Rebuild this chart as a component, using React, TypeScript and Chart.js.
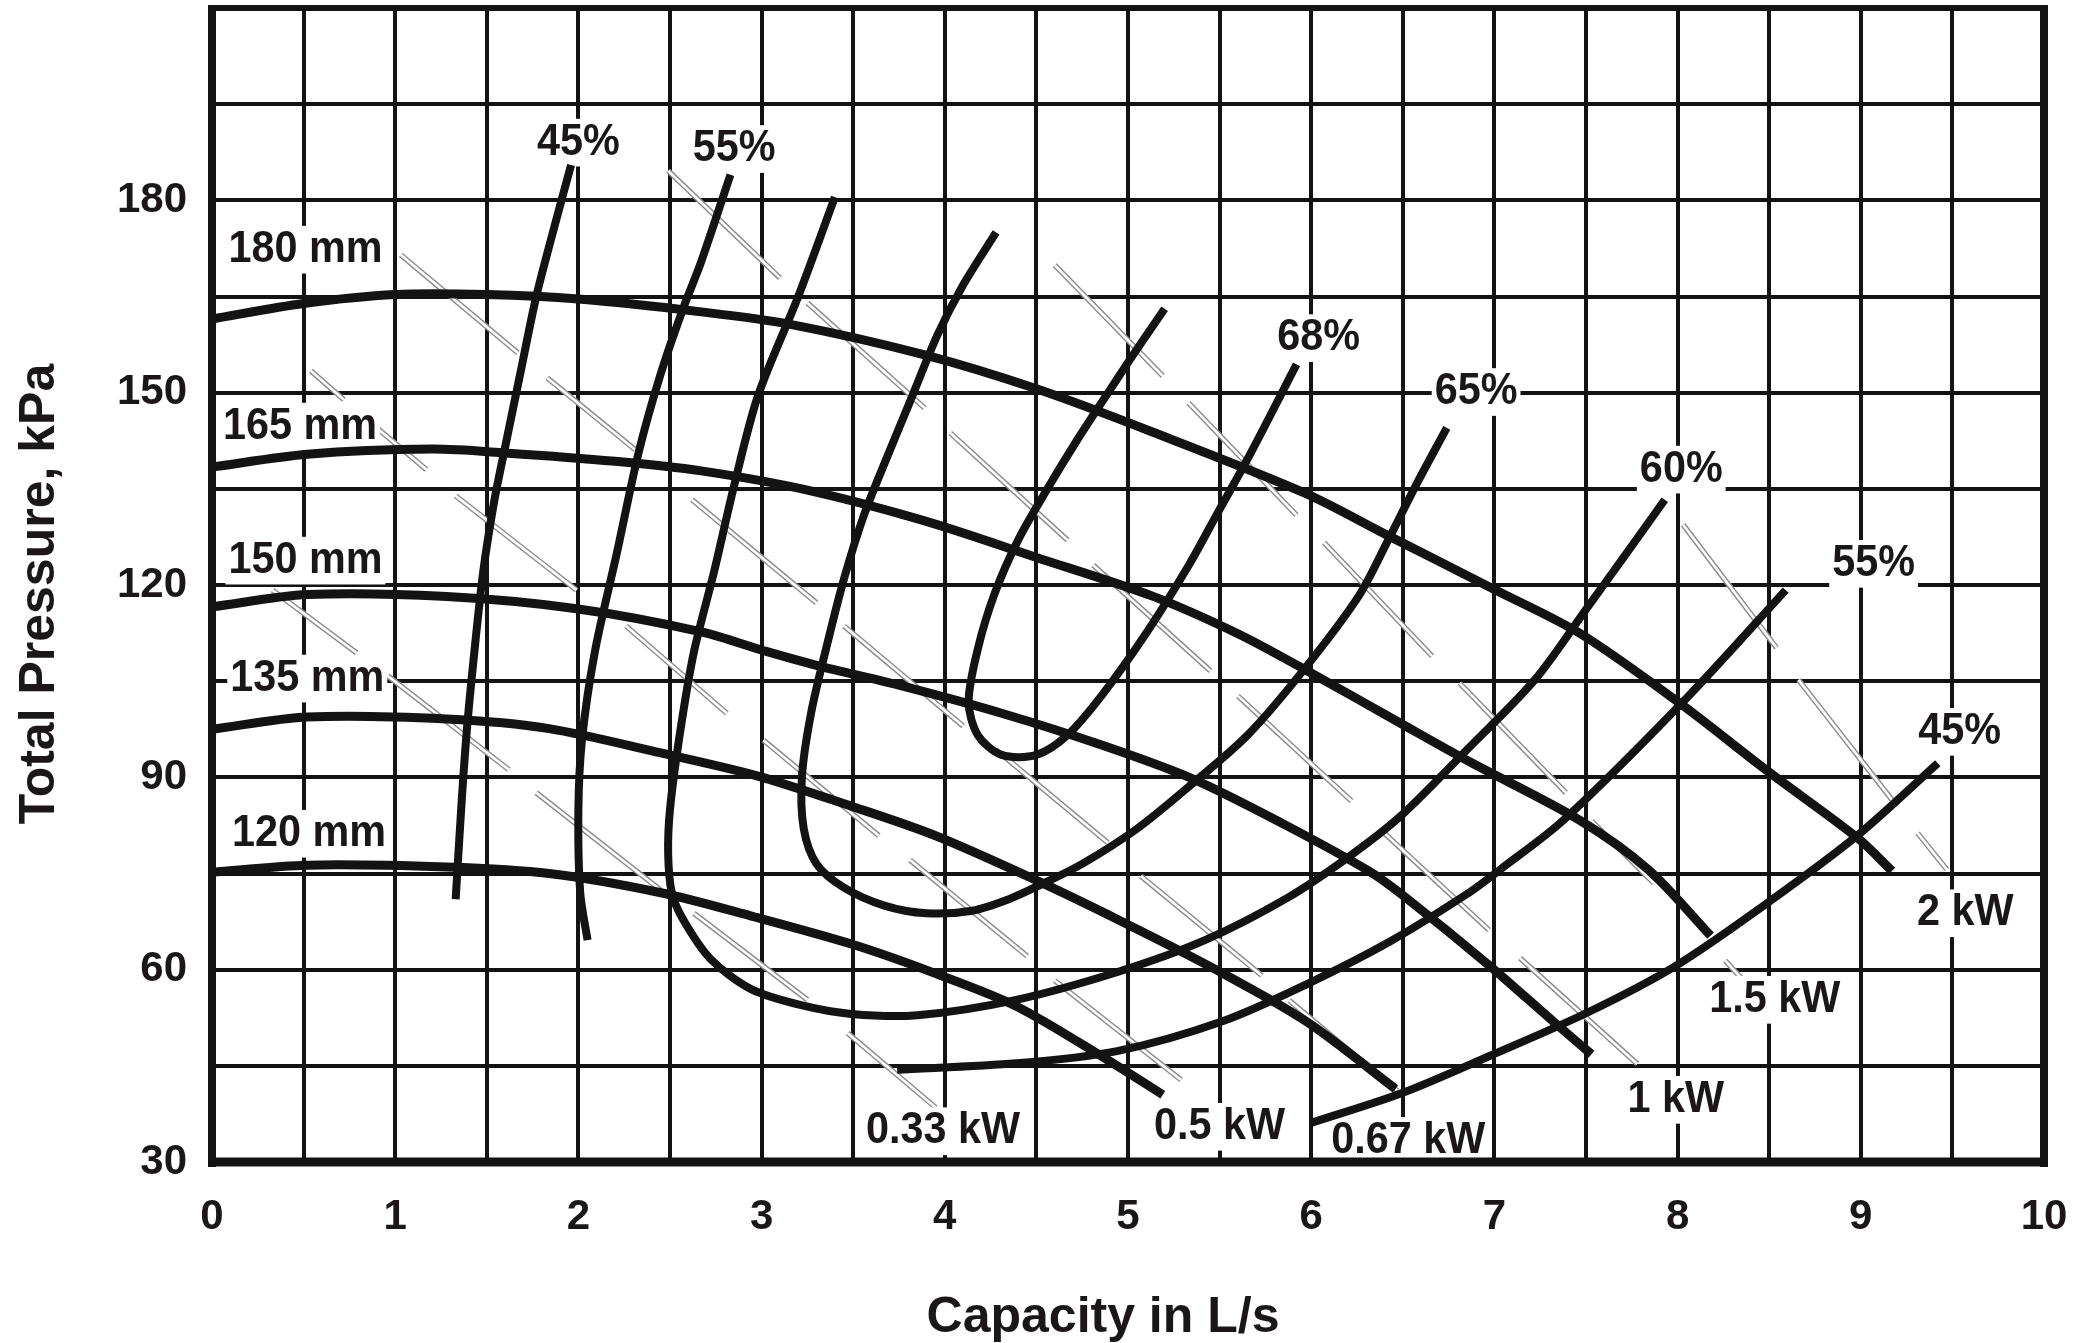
import React, { useEffect, useRef } from 'react';
import { Chart, registerables } from 'chart.js';

Chart.register(...registerables);

type Pt = [number, number];

// ---------- axes ----------
const X_MIN = 0;
const X_MAX = 10;
const X_STEP = 0.5;
const Y_MIN = 30;
const Y_MAX = 210;
const Y_STEP = 15;
const xTickLabels = ['0', '1', '2', '3', '4', '5', '6', '7', '8', '9', '10'];
const yTickLabels = ['30', '60', '90', '120', '150', '180'];
const xTitle = 'Capacity in L/s';
const yTitle = 'Total Pressure, kPa';

// ---------- impeller diameter (head) curves: [L/s, kPa] ----------
const dia180: Pt[] = [[0, 161.5], [0.5, 163.9], [1, 165.3], [1.5, 165.3], [2, 164.6], [2.67, 162.6], [3.15, 160.7], [3.89, 155.9], [4.5, 150.6], [5.13, 143.9], [5.96, 134.4], [6.42, 127.7], [7.0, 119.3], [7.47, 112.4], [8.01, 101.6], [8.49, 91], [8.98, 80.6], [9.17, 75.4]];
const dia165: Pt[] = [[0, 138.4], [0.52, 140.4], [1.2, 141.2], [1.6, 140.6], [2.2, 139.3], [2.67, 137.8], [3.25, 134.8], [3.89, 130], [4.5, 124.3], [5.13, 118.3], [5.6, 112.4], [5.96, 106.9], [6.49, 98.4], [6.86, 92.5], [7.46, 83.4], [7.84, 75.6], [8.18, 65.3]];
const dia150: Pt[] = [[0, 116.6], [0.52, 118.5], [1.28, 118.2], [1.99, 116.3], [2.67, 112.7], [3.03, 109.6], [3.31, 107.4], [3.76, 104.3], [4.31, 100], [4.86, 95], [5.35, 89.8], [5.85, 82.7], [6.32, 75.3], [6.5, 71.6], [6.97, 60.7], [7.33, 51.7], [7.53, 46.8]];
const dia135: Pt[] = [[0, 97.5], [0.52, 99.4], [1.28, 99.1], [1.84, 97.6], [2.45, 93.8], [2.98, 90.2], [3.49, 85.5], [3.94, 81], [4.48, 74.2], [4.96, 67.6], [5.48, 60], [5.98, 51.8], [6.46, 41.4]];
const dia120: Pt[] = [[0, 75.2], [0.52, 76.3], [1.28, 76], [1.84, 75], [2.45, 72], [2.94, 68.4], [3.49, 64], [3.94, 59.5], [4.39, 54.3], [4.89, 45.9], [5.19, 40.5]];

// ---------- efficiency curves ----------
const eff45Left: Pt[] = [[1.33, 71], [1.36, 85], [1.39, 97], [1.43, 109], [1.48, 122], [1.54, 133], [1.6, 141.5], [1.69, 154], [1.77, 165], [1.87, 176], [1.96, 185.5]];
const eff55Left: Pt[] = [[2.05, 64.6], [2.01, 72], [2.0, 85], [2.02, 96], [2.09, 109.6], [2.21, 125], [2.33, 140.8], [2.45, 153], [2.57, 163], [2.67, 170.4], [2.83, 184]];
const eff60: Pt[] = [[3.4, 180.5], [3.2, 165], [2.98, 149.5], [2.85, 135.5], [2.74, 122], [2.63, 109.5], [2.555, 97], [2.5, 85], [2.49, 78], [2.51, 72], [2.57, 67.9], [2.72, 61.7], [2.94, 57], [3.21, 54.5], [3.49, 53.1], [3.85, 52.9], [4.39, 55.3], [4.96, 59.8], [5.42, 64.6], [5.87, 71.2], [6.2, 77.5], [6.49, 84], [6.85, 94.3], [7.22, 105.2], [7.51, 116.6], [7.71, 124.5], [7.93, 133.3]];
const eff65: Pt[] = [[4.28, 175], [4.1, 166.8], [3.96, 159], [3.81, 148.6], [3.7, 141], [3.56, 131], [3.45, 121], [3.36, 111], [3.27, 100], [3.22, 90], [3.23, 82], [3.3, 76.5], [3.45, 72.8], [3.67, 70], [3.9, 68.8], [4.15, 69.2], [4.35, 71], [4.52, 73.2], [4.75, 76.5], [5.05, 82], [5.33, 88.5], [5.65, 96.5], [5.96, 106.8], [6.26, 118.3], [6.42, 127], [6.58, 136], [6.74, 144.5]];
const eff68: Pt[] = [[5.2, 163.1], [5.03, 156], [4.88, 149.5], [4.72, 142.5], [4.56, 135], [4.4, 127], [4.27, 118.5], [4.18, 110], [4.13, 101.8], [4.18, 96.6], [4.31, 93.5], [4.5, 93.5], [4.67, 96.6], [4.86, 102.9], [5.1, 112.5], [5.33, 123], [5.5, 131.8], [5.65, 139.5], [5.92, 154.4]];
const eff55Right: Pt[] = [[3.74, 44.4], [4.39, 45.4], [4.94, 47.3], [5.52, 52], [5.98, 57.8], [6.43, 64.4], [6.85, 71.8], [7.04, 75.8], [7.38, 83.4], [8.06, 102.7], [8.59, 119.2]];
const eff45Right: Pt[] = [[6.0, 36.1], [6.5, 40.8], [6.97, 46.5], [7.5, 53.2], [7.99, 60.6], [8.49, 70.4], [8.98, 80.9], [9.42, 92.2]];

// ---------- power lines (dashed pieces) ----------
const pw033: Pt[][] = [[[0.33, 119.2], [0.79, 109.4]], [[0.96, 105.8], [1.62, 91.2]], [[1.77, 87.6], [2.45, 72.4]], [[2.63, 68.8], [3.25, 55.3]], [[3.47, 50.1], [3.95, 38.5]]];
const pw050: Pt[][] = [[[0.54, 153.4], [0.72, 148.9]], [[0.9, 144.5], [1.17, 138]], [[1.33, 133.9], [1.99, 119.2]], [[2.26, 113.6], [2.81, 100]], [[3.01, 95.8], [3.64, 80.9]], [[3.81, 77.1], [4.45, 62.1]], [[4.6, 58.3], [5.29, 42.8]]];
const pw067: Pt[][] = [[[1.03, 171.5], [1.67, 156.2]], [[1.83, 152.3], [2.31, 141.1]], [[2.62, 133.3], [3.3, 117.2]], [[3.45, 113.6], [4.1, 98]], [[4.28, 94.3], [4.89, 79.8]], [[5.07, 74.6], [5.73, 59.1]], [[5.88, 55.2], [6.47, 41.1]]];
const pw100: Pt[][] = [[[2.49, 184.6], [3.1, 167.9]], [[3.25, 164], [3.89, 147.6]], [[4.03, 143.7], [4.67, 127]], [[4.81, 123.1], [5.45, 106.6]], [[5.6, 102.7], [6.22, 86.3]], [[6.38, 81.8], [6.97, 66.2]], [[7.14, 61.8], [7.78, 45.3]]];
const pw150: Pt[][] = [[[4.6, 169.9], [5.19, 152.6]], [[5.33, 148.4], [5.92, 130.9]], [[6.07, 126.6], [6.66, 108.9]], [[6.81, 104.7], [7.39, 87.6]], [[7.53, 83.2], [7.87, 73.5]], [[8.26, 61.4], [8.45, 55.5]]];
const pw200: Pt[][] = [[[8.03, 129.4], [8.54, 110.2]], [[8.66, 105.2], [9.17, 86.5]], [[9.31, 81.3], [9.47, 75.6]]];

// ---------- curve labels (text, anchor in data units) ----------
const labelTexts = ['180 mm', '165 mm', '150 mm', '135 mm', '120 mm', '45%', '55%', '68%', '65%', '60%', '55%', '45%', '2 kW', '1.5 kW', '1 kW', '0.67 kW', '0.5 kW', '0.33 kW'];
const labelX = [0.51, 0.48, 0.51, 0.52, 0.53, 2.0, 2.85, 6.04, 6.9, 8.02, 9.07, 9.54, 9.57, 8.53, 7.99, 6.53, 5.5, 3.99];
const labelY = [172.3, 144.7, 123.8, 105.4, 81.2, 189, 188, 158.5, 150.1, 138, 123.3, 97.1, 68.8, 55.3, 39.7, 33.3, 35.5, 34.8];

// ---------- styles ----------
const W = 2092;
const H = 1343;
const FONT = '"Liberation Sans", Arial, Helvetica, sans-serif';
const INK = '#131313';
const TEXT = '#1b1718';
const GREY = '#8d8d8d';

const toXY = (pts: Pt[]) => pts.map(([x, y]) => ({ x, y }));
const piecesToXY = (pieces: Pt[][]) => {
  const out: { x: number | null; y: number | null }[] = [];
  pieces.forEach((seg, i) => {
    if (i > 0) out.push({ x: null, y: null });
    seg.forEach(([x, y]) => out.push({ x, y }));
  });
  return out;
};

const headSeries = [dia180, dia165, dia150, dia135, dia120];
const effSeries = [eff45Left, eff55Left, eff60, eff65, eff68, eff55Right, eff45Right];
const powerSeries = [pw033, pw050, pw067, pw100, pw150, pw200];

function buildDatasets() {
  const ds: any[] = [];
  powerSeries.forEach((p) => {
    ds.push({ kind: 'power', data: piecesToXY(p), showLine: true, borderColor: GREY, borderWidth: 5.5, pointRadius: 0, tension: 0, order: 20, borderCapStyle: 'butt', spanGaps: false });
    ds.push({ kind: 'power', data: piecesToXY(p), showLine: true, borderColor: '#ffffff', borderWidth: 2.6, pointRadius: 0, tension: 0, order: 19, borderCapStyle: 'butt', spanGaps: false });
  });
  headSeries.forEach((p) => {
    ds.push({ kind: 'curve', data: toXY(p), showLine: true, borderColor: INK, borderWidth: 9, pointRadius: 0, tension: 0.3, order: 1, borderCapStyle: 'butt', borderJoinStyle: 'round' });
  });
  effSeries.forEach((p) => {
    ds.push({ kind: 'curve', data: toXY(p), showLine: true, borderColor: INK, borderWidth: 8, pointRadius: 0, tension: 0.3, order: 0, borderCapStyle: 'butt', borderJoinStyle: 'round' });
  });
  return ds;
}

const LABEL_SIZE = 44;
const LABEL_SX = 0.94;
const CAP = LABEL_SIZE * 0.72;
const PAD_X = 3;
const PAD_Y = 8;

function drawBoxes(chart: any) {
  const { ctx, scales } = chart;
  ctx.save();
  ctx.font = `bold ${LABEL_SIZE}px ${FONT}`;
  ctx.fillStyle = '#ffffff';
  labelTexts.forEach((t, i) => {
    const px = scales.x.getPixelForValue(labelX[i]);
    const py = scales.y.getPixelForValue(labelY[i]);
    const w = ctx.measureText(t).width * LABEL_SX;
    ctx.fillRect(px - w / 2 - PAD_X, py - CAP / 2 - PAD_Y, w + 2 * PAD_X, CAP + 2 * PAD_Y);
  });
  ctx.restore();
}

let boxesDone = false;

const overlay = {
  id: 'overlay',
  beforeDatasetsDraw() {
    boxesDone = false;
  },
  beforeDatasetDraw(chart: any, args: any) {
    const d = chart.data.datasets[args.index];
    if (d.kind === 'curve' && !boxesDone) {
      drawBoxes(chart);
      boxesDone = true;
    }
  },
  afterDatasetsDraw(chart: any) {
    const { ctx, chartArea, scales } = chart;
    if (!boxesDone) drawBoxes(chart);
    const { left, right, top, bottom } = chartArea;
    ctx.save();
    ctx.fillStyle = INK;
    // frame
    ctx.fillRect(left - 4, top - 3, 8, bottom - top + 8);
    ctx.fillRect(left - 4, bottom - 4.5, right - left + 8, 9);
    ctx.fillRect(left - 4, top - 3, right - left + 8, 6);
    ctx.fillRect(right - 4, top - 3, 8, bottom - top + 8);
    // labels
    ctx.fillStyle = TEXT;
    ctx.font = `bold ${LABEL_SIZE}px ${FONT}`;
    ctx.textAlign = 'center';
    ctx.textBaseline = 'middle';
    labelTexts.forEach((t, i) => {
      const px = scales.x.getPixelForValue(labelX[i]);
      const py = scales.y.getPixelForValue(labelY[i]);
      ctx.save();
      ctx.translate(px, py);
      ctx.scale(LABEL_SX, 1);
      ctx.fillText(t, 0, 0);
      ctx.restore();
    });
    // axis titles
    ctx.font = `bold 50px ${FONT}`;
    ctx.fillText(xTitle, (left + right) / 2 - 25, 1318);
    ctx.save();
    ctx.translate(40, (top + bottom) / 2 + 9);
    ctx.rotate(-Math.PI / 2);
    ctx.fillText(yTitle, 0, 0);
    ctx.restore();
    ctx.restore();
  },
};

export default function App() {
  const ref = useRef<HTMLCanvasElement>(null);
  useEffect(() => {
    document.body.style.margin = '0';
    const tickFont = { family: FONT, size: 42, weight: 'bold' as const };
    const chart = new Chart(ref.current as HTMLCanvasElement, {
      type: 'scatter',
      data: { datasets: buildDatasets() },
      options: {
        animation: false,
        responsive: false,
        devicePixelRatio: 1,
        events: [],
        layout: { padding: { top: 8, right: 48, left: 0, bottom: 0 } },
        plugins: { legend: { display: false }, tooltip: { enabled: false } },
        scales: {
          x: {
            type: 'linear',
            min: X_MIN,
            max: X_MAX,
            afterFit: (s: any) => { s.height = 181; s.paddingLeft = 0; s.paddingRight = 0; s.paddingTop = 0; s.paddingBottom = 0; },
            grid: { color: INK, lineWidth: 4, drawTicks: false },
            border: { display: false },
            ticks: {
              stepSize: X_STEP,
              autoSkip: false,
              maxRotation: 0,
              padding: 30,
              color: TEXT,
              font: tickFont,
              callback: (v: any) => {
                const s = String(v);
                return xTickLabels.includes(s) ? s : '';
              },
            },
          },
          y: {
            type: 'linear',
            min: Y_MIN,
            max: Y_MAX,
            afterFit: (s: any) => { s.width = 212; s.paddingTop = 0; s.paddingBottom = 0; s.paddingLeft = 0; s.paddingRight = 0; },
            grid: { color: INK, lineWidth: 4, drawTicks: false },
            border: { display: false },
            ticks: {
              stepSize: Y_STEP,
              autoSkip: false,
              padding: 25,
              color: TEXT,
              font: tickFont,
              callback: (v: any) => {
                if (v === Y_MAX) return null;
                const s = String(v);
                return yTickLabels.includes(s) ? s : '';
              },
            },
          },
        },
      },
      plugins: [overlay],
    } as any);
    return () => chart.destroy();
  }, []);
  return (
    <div style={{ width: W, height: H, background: '#fff' }}>
      <canvas ref={ref} width={W} height={H} style={{ display: 'block', width: W, height: H }} />
    </div>
  );
}
